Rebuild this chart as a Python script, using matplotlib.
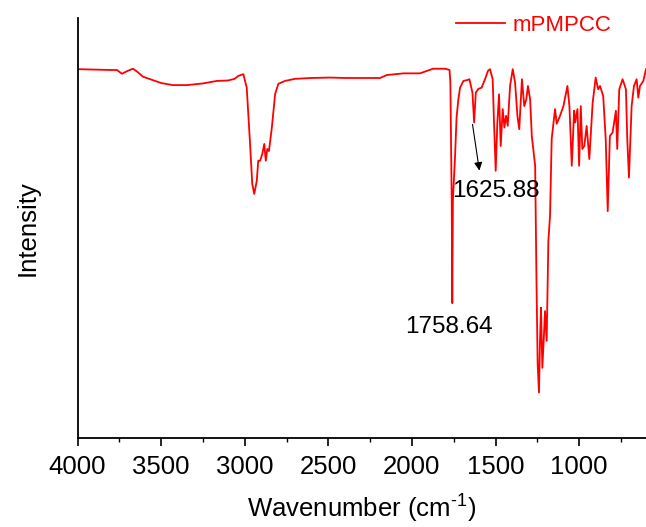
import matplotlib
matplotlib.use("Agg")
import matplotlib.pyplot as plt
from matplotlib.ticker import MultipleLocator

plt.rcParams['font.family'] = ['Liberation Sans', 'DejaVu Sans']

# FTIR spectrum (wavenumber in cm-1, intensity in arbitrary units 0-100)
wavenumber = [4000, 3900, 3800, 3764, 3734, 3700, 3668, 3640, 3608, 3550, 3500, 3429,
              3346, 3250, 3166, 3100, 3060, 3038, 3008, 2988, 2968, 2955, 2943, 2928,
              2919, 2908, 2895, 2883, 2874, 2865, 2855, 2838, 2818, 2799, 2759, 2699,
              2600, 2490, 2400, 2300, 2190, 2150, 2050, 1952, 1874, 1800, 1775, 1770,
              1762, 1758.64, 1755, 1742, 1733, 1722, 1712, 1692, 1670, 1656, 1638, 1628,
              1618, 1603, 1583, 1563, 1545, 1533, 1517, 1509, 1499, 1489, 1479, 1469,
              1457, 1447, 1437, 1427, 1413, 1397, 1383, 1369, 1358, 1342, 1328, 1316,
              1306, 1293, 1283, 1263, 1255, 1248, 1240, 1234, 1228, 1220, 1212, 1204,
              1194, 1184, 1174, 1164, 1144, 1134, 1114, 1094, 1070, 1058, 1044, 1030,
              1024, 1010, 1000, 990, 981, 969, 955, 939, 919, 901, 886, 875, 856, 841,
              829, 816, 800, 780, 772, 760, 740, 720, 712, 702, 686, 672, 656, 646,
              636, 616, 600]
intensity = [87.8, 87.7, 87.6, 87.6, 86.7, 87.4, 87.9, 87.1, 86.0, 85.2, 84.5, 84.0,
             84.0, 84.4, 85.0, 85.1, 85.5, 86.2, 86.6, 83.4, 70.0, 60.5, 58.1, 61.2,
             66.0, 66.0, 67.6, 70.0, 66.0, 68.8, 68.3, 73.8, 81.9, 84.3, 85.0, 85.5,
             85.7, 85.8, 85.7, 85.7, 85.7, 86.4, 86.8, 86.8, 87.9, 87.9, 87.6, 84.6,
             56.4, 32.1, 56.4, 67.1, 76.3, 80.7, 83.4, 85.0, 85.2, 85.4, 82.2, 75.1,
             82.2, 83.1, 83.4, 85.4, 87.4, 87.8, 85.4, 75.1, 63.6, 75.1, 81.8, 69.5,
             78.3, 73.9, 76.7, 74.3, 83.8, 87.8, 84.6, 76.7, 73.5, 85.4, 79.0, 80.6,
             83.8, 80.6, 71.9, 64.8, 37.4, 17.6, 10.8, 23.1, 31.0, 16.7, 23.1, 30.2,
             23.1, 46.9, 52.9, 71.2, 78.3, 74.8, 76.7, 79.0, 83.8, 79.0, 64.8, 77.9,
             75.1, 78.3, 64.8, 79.0, 68.8, 69.5, 74.3, 66.4, 79.8, 85.8, 83.0, 83.8,
             81.4, 71.2, 54.0, 71.9, 72.7, 77.9, 68.8, 83.0, 85.4, 83.0, 71.2, 62.0,
             79.0, 83.8, 85.4, 81.0, 83.8, 85.0, 87.8]

series_name = 'mPMPCC'
peak_labels = ['1758.64', '1625.88']

fig = plt.figure(figsize=(6.46, 5.27), dpi=100)
ax = fig.add_axes([0.12, 0.169, 0.88, 0.797])

ax.plot(wavenumber, intensity, color='#ff0000', lw=1.3, label=series_name)

ax.set_xlim(4000, 600)
ax.set_ylim(0, 100)
ax.xaxis.set_major_locator(MultipleLocator(500))
ax.xaxis.set_minor_locator(MultipleLocator(250))
ax.tick_params(axis='x', which='major', direction='out', length=6, width=1.2,
               labelsize=18.5, pad=6)
ax.tick_params(axis='x', which='minor', direction='out', length=3, width=1.0)
ax.set_yticks([])
for side in ['top', 'right']:
    ax.spines[side].set_visible(False)
for side in ['left', 'bottom']:
    ax.spines[side].set_linewidth(1.3)

ax.set_xlabel('Wavenumber (cm$^{\\mathregular{\u20101}}$)', fontsize=18.5, labelpad=9)
ax.set_ylabel('Intensity', fontsize=18.5, labelpad=27)

# peak labels
ax.text(1781, 26.3, peak_labels[0], fontsize=17.5, ha='center', va='center')
ax.text(1498, 58.7, peak_labels[1], fontsize=17.5, ha='center', va='center')
ax.annotate('', xy=(1594, 63.0), xytext=(1640, 75.3),
            arrowprops=dict(arrowstyle='-|>', color='black', lw=0.8,
                            mutation_scale=12))

leg = ax.legend(loc='upper right', bbox_to_anchor=(0.947, 0.972),
                bbox_transform=fig.transFigure, frameon=False, fontsize=16,
                handlelength=2.2, handletextpad=0.35, borderpad=0,
                borderaxespad=0, labelcolor='linecolor')

fig.savefig('out.png', dpi=100)
